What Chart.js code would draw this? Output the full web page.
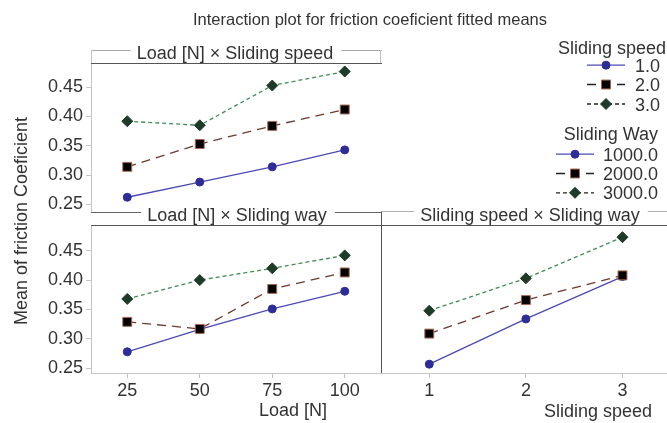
<!DOCTYPE html>
<html>
<head>
<meta charset="utf-8">
<script src="https://cdn.jsdelivr.net/npm/chart.js@4.4.1/dist/chart.umd.min.js"></script>
<style>
html, body { margin: 0; padding: 0; background: #fff; overflow: hidden; }
#wrap { position: relative; width: 667px; height: 423px; }
#wrap canvas { position: absolute; left: 0; top: 0; }
</style>
</head>
<body>
<div id="wrap">
  <canvas id="loadSpeed" width="667" height="423"></canvas>
  <canvas id="loadWay" width="667" height="423"></canvas>
  <canvas id="speedWay" width="667" height="423"></canvas>
</div>
<script>
const FONT = '"Liberation Sans", Arial, sans-serif';

// categories / ticks
const loads = ['25', '50', '75', '100'];
const speeds = [1, 2, 3];
const yTicks = [0.25, 0.30, 0.35, 0.40, 0.45];
const speedLabels = ['1.0', '2.0', '3.0'];
const wayLabels = ['1000.0', '2000.0', '3000.0'];

// Load [N] x Sliding speed
const loadSpeed1 = [0.262, 0.288, 0.314, 0.343];
const loadSpeed2 = [0.314, 0.353, 0.384, 0.412];
const loadSpeed3 = [0.392, 0.385, 0.453, 0.477];

// Load [N] x Sliding way
const loadWay1000 = [0.278, 0.316, 0.351, 0.381];
const loadWay2000 = [0.329, 0.317, 0.385, 0.413];
const loadWay3000 = [0.368, 0.400, 0.420, 0.442];

// Sliding speed x Sliding way
const speedWay1000 = [0.257, 0.334, 0.406];
const speedWay2000 = [0.309, 0.366, 0.408];
const speedWay3000 = [0.348, 0.403, 0.473];

Chart.defaults.font.family = FONT;
Chart.defaults.font.size = 18;
Chart.defaults.color = '#333';

const styles = [
  {line: '#4a4ab6', fill: '#2d2d9a', edge: '#2d2d9a', dash: [], point: 'circle', r: 4},
  {line: '#6b3a2a', fill: '#000000', edge: '#a8664c', dash: [9, 6], point: 'rect', r: 6.3},
  {line: '#3f8d56', fill: '#1e3b29', edge: '#1e3b29', dash: [4, 3], point: 'rectRot', r: 5.5}
];

function makeSets(arrs, xs) {
  return arrs.map((d, i) => ({
    data: xs ? d.map((v, j) => ({x: xs[j], y: v})) : d,
    order: 3 - i,
    borderColor: styles[i].line,
    borderWidth: 1.3,
    borderDash: styles[i].dash,
    pointStyle: styles[i].point,
    pointRadius: styles[i].r,
    pointHoverRadius: styles[i].r,
    pointBackgroundColor: styles[i].fill,
    pointBorderColor: styles[i].edge,
    pointBorderWidth: 1,
    tension: 0,
    fill: false
  }));
}

function yScale(min, max, show) {
  return {
    display: show,
    min: min,
    max: max,
    afterBuildTicks: s => { s.ticks = yTicks.map(v => ({value: v})); },
    afterFit: s => { s.width = show ? 91 : 0; },
    grid: {drawOnChartArea: false, tickLength: 5, color: '#c4c4c4'},
    border: {color: '#c4c4c4'},
    ticks: {padding: 3, color: '#333', callback: v => v.toFixed(2)}
  };
}

function drawMarker(ctx, st, x, y) {
  ctx.fillStyle = st.fill;
  ctx.strokeStyle = st.edge;
  ctx.lineWidth = 1;
  ctx.beginPath();
  if (st.point === 'circle') {
    ctx.arc(x, y, st.r, 0, Math.PI * 2);
  } else if (st.point === 'rect') {
    const s = st.r * Math.SQRT1_2;
    ctx.rect(x - s, y - s, 2 * s, 2 * s);
  } else {
    ctx.moveTo(x - st.r, y); ctx.lineTo(x, y - st.r);
    ctx.lineTo(x + st.r, y); ctx.lineTo(x, y + st.r);
    ctx.closePath();
  }
  ctx.fill();
  ctx.stroke();
}

function hline(ctx, x0, x1, y, color) {
  ctx.strokeStyle = color;
  ctx.beginPath();
  ctx.moveTo(x0, y + 0.5);
  ctx.lineTo(x1, y + 0.5);
  ctx.stroke();
}

function vline(ctx, x, y0, y1, color) {
  ctx.strokeStyle = color;
  ctx.beginPath();
  ctx.moveTo(x + 0.5, y0);
  ctx.lineTo(x + 0.5, y1);
  ctx.stroke();
}

// panel header (strip) + extra texts
const panelDecor = {
  id: 'panelDecor',
  afterDraw(chart, args, o) {
    const ctx = chart.ctx;
    const a = chart.chartArea;
    ctx.save();
    ctx.lineWidth = 1;
    ctx.setLineDash([]);
    const h = o.header;
    if (h) {
      ctx.font = '18px ' + FONT;
      const w = ctx.measureText(h.text).width;
      hline(ctx, h.left, h.cx - w / 2 - 6, h.top, h.topColor);
      hline(ctx, h.cx + w / 2 + 8, h.right, h.top, h.topColor);
      hline(ctx, h.left, h.right, h.bottom, '#555');
      if (h.sides) {
        vline(ctx, h.left, h.top, h.bottom, '#c4c4c4');
        vline(ctx, h.right - 2, h.top, h.bottom, '#c4c4c4');
      }
      ctx.fillStyle = '#333';
      ctx.textAlign = 'center';
      ctx.textBaseline = 'alphabetic';
      ctx.fillText(h.text, h.cx, h.base);
    }
    if (o.separator) {
      vline(ctx, a.right, o.separator, a.bottom, '#555');
    }
    if (o.axisTitle) {
      const t = o.axisTitle;
      ctx.font = '18px ' + FONT;
      ctx.fillStyle = '#333';
      ctx.textAlign = t.align;
      ctx.textBaseline = 'alphabetic';
      ctx.fillText(t.text, t.x, t.y);
    }
    if (o.page) {
      // main title
      ctx.font = '16.5px ' + FONT;
      ctx.fillStyle = '#333';
      ctx.textAlign = 'center';
      ctx.textBaseline = 'alphabetic';
      ctx.fillText('Interaction plot for friction coeficient fitted means', 370, 25);
      // y axis title
      ctx.save();
      ctx.font = '18px ' + FONT;
      ctx.translate(27, 221);
      ctx.rotate(-Math.PI / 2);
      ctx.fillText('Mean of friction Coeficient', 0, 0);
      ctx.restore();
      // legends
      const groups = [
        {title: 'Sliding speed', labels: speedLabels, tRight: 666, tBase: 54, lRight: 660,
         bases: [71.7, 91, 110.5], x0: 587, x1: 625},
        {title: 'Sliding Way', labels: wayLabels, tRight: 658, tBase: 140, lRight: 658,
         bases: [160.7, 180, 199.3], x0: 556, x1: 594}
      ];
      ctx.font = '18px ' + FONT;
      groups.forEach(g => {
        ctx.fillStyle = '#333';
        ctx.textAlign = 'right';
        ctx.fillText(g.title, g.tRight, g.tBase);
        g.labels.forEach((lab, i) => {
          ctx.fillStyle = '#333';
          ctx.fillText(lab, g.lRight, g.bases[i]);
          const y = g.bases[i] - 6.5;
          ctx.strokeStyle = i === 0 ? styles[i].line : '#222';
          ctx.lineWidth = 1.3;
          ctx.setLineDash(styles[i].dash);
          ctx.beginPath();
          ctx.moveTo(g.x0, y);
          ctx.lineTo(g.x1, y);
          ctx.stroke();
          ctx.setLineDash([]);
          drawMarker(ctx, styles[i], (g.x0 + g.x1) / 2, y);
        });
      });
    }
    ctx.restore();
  }
};

const baseOpts = {
  responsive: false,
  animation: false,
  events: [],
  plugins: {legend: {display: false}, tooltip: {enabled: false}}
};

// Load x Sliding speed (top left)
new Chart(document.getElementById('loadSpeed'), {
  type: 'line',
  data: {labels: loads, datasets: makeSets([loadSpeed1, loadSpeed2, loadSpeed3])},
  options: {
    ...baseOpts,
    layout: {autoPadding: false, padding: {left: 0, top: 64, right: 286, bottom: 211}},
    scales: {
      x: {display: false, offset: true},
      y: yScale(0.2368, 0.4898, true)
    },
    plugins: {
      ...baseOpts.plugins,
      panelDecor: {
        page: true,
        header: {text: 'Load [N] \u00d7 Sliding speed', left: 91, right: 382, cx: 235,
                 top: 50, bottom: 63, base: 58.5, topColor: '#a8a8a8', sides: true}
      }
    }
  },
  plugins: [panelDecor]
});

// Load x Sliding way (bottom left)
new Chart(document.getElementById('loadWay'), {
  type: 'line',
  data: {labels: loads, datasets: makeSets([loadWay1000, loadWay2000, loadWay3000])},
  options: {
    ...baseOpts,
    layout: {autoPadding: false, padding: {left: 0, top: 226, right: 286, bottom: 0}},
    scales: {
      x: {
        offset: true,
        afterFit: s => { s.height = 50; },
        grid: {drawOnChartArea: false, tickLength: 5, color: '#c4c4c4', offset: false},
        border: {color: '#c4c4c4'},
        ticks: {padding: 2, color: '#333'}
      },
      y: yScale(0.242, 0.492, true)
    },
    plugins: {
      ...baseOpts.plugins,
      panelDecor: {
        separator: 212,
        axisTitle: {text: 'Load [N]', x: 293, y: 416, align: 'center'},
        header: {text: 'Load [N] \u00d7 Sliding way', left: 91, right: 381, cx: 237,
                 top: 212, bottom: 225, base: 220.7, topColor: '#666'}
      }
    }
  },
  plugins: [panelDecor]
});

// Sliding speed x Sliding way (bottom right)
new Chart(document.getElementById('speedWay'), {
  type: 'line',
  data: {datasets: makeSets([speedWay1000, speedWay2000, speedWay3000], speeds)},
  options: {
    ...baseOpts,
    layout: {autoPadding: false, padding: {left: 381, top: 226, right: 0, bottom: 0}},
    scales: {
      x: {
        type: 'linear',
        min: 0.5,
        max: 3.461,
        afterBuildTicks: s => { s.ticks = speeds.map(v => ({value: v})); },
        afterFit: s => { s.height = 50; },
        grid: {drawOnChartArea: false, tickLength: 5, color: '#c4c4c4'},
        border: {color: '#c4c4c4'},
        ticks: {padding: 2, color: '#333', callback: v => String(v)}
      },
      y: yScale(0.242, 0.492, false)
    },
    plugins: {
      ...baseOpts.plugins,
      panelDecor: {
        axisTitle: {text: 'Sliding speed', x: 652, y: 416.5, align: 'right'},
        header: {text: 'Sliding speed \u00d7 Sliding way', left: 381, right: 667, cx: 530,
                 top: 211, bottom: 225, base: 221, topColor: '#b0b0b0'}
      }
    }
  },
  plugins: [panelDecor]
});
</script>
</body>
</html>
